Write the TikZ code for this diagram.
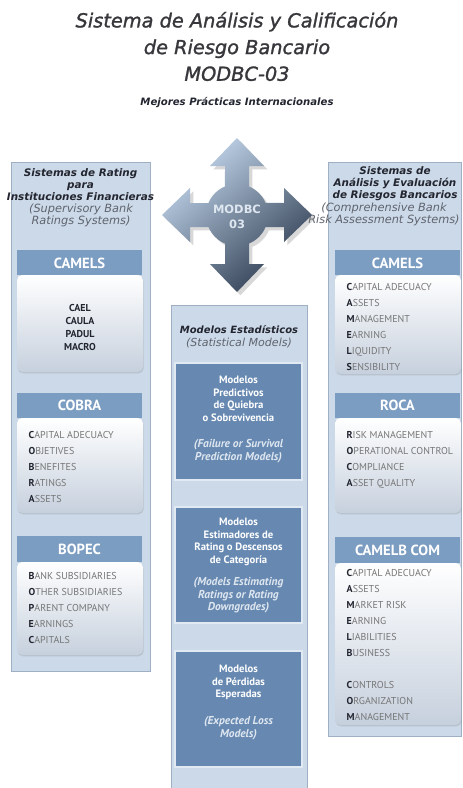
\documentclass[tikz,border=0pt]{standalone}
\usepackage{fontspec}
\setmainfont{PT Sans}
\newfontfamily\hdfont{DejaVu Sans}[BoldFont={DejaVu Sans Bold},ItalicFont={DejaVu Sans Oblique},BoldItalicFont={DejaVu Sans Bold Oblique}]
\newfontfamily\titlefont{DejaVu Sans Oblique}[FakeBold=1.3]
\usetikzlibrary{shadows}

\definecolor{panelbg}{RGB}{204,217,232}
\definecolor{panelline}{RGB}{160,176,196}
\definecolor{bandbg}{RGB}{124,157,194}
\definecolor{modbg}{RGB}{103,137,177}
\definecolor{modline}{RGB}{225,233,242}
\definecolor{boxlow}{RGB}{198,208,221}
\definecolor{inkdark}{RGB}{35,38,48}
\definecolor{inkgrey}{RGB}{95,100,110}
\definecolor{itemgrey}{RGB}{118,118,118}
\definecolor{titleink}{RGB}{55,55,60}
\definecolor{arrowlight}{RGB}{196,216,238}
\definecolor{arrowdark}{RGB}{48,62,82}
\definecolor{subwhite}{RGB}{222,230,240}

\newcommand{\itm}[2]{{\bfseries\color{inkdark}#1}#2}

\begin{document}
\begin{tikzpicture}[x=0.75pt,y=-0.75pt,
  panel/.style={fill=panelbg,draw=panelline,line width=0.6pt},
  headtext/.style={align=center,text=inkdark,font=\hdfont\fontsize{7.8}{9}\selectfont\bfseries\itshape},
  engtext/.style={align=center,text=inkgrey,font=\hdfont\fontsize{8.5}{9}\selectfont\itshape},
  bandtext/.style={text=white,font=\fontsize{11}{12}\selectfont\bfseries},
  listbox/.style={top color=white,bottom color=boxlow,rounded corners=4pt,drop shadow={opacity=0.25,shadow xshift=0.5pt,shadow yshift=-1pt}},
  listtext/.style={anchor=west,align=left,text=itemgrey,font=\fontsize{7.5}{12}\selectfont},
  modbox/.style={fill=modbg,draw=modline,line width=0.8pt},
  modtext/.style={align=center,text=white,font=\fontsize{8}{9.4}\selectfont\bfseries},
  modsub/.style={align=center,text=subwhite,font=\fontsize{8.6}{9.4}\selectfont\bfseries\itshape}]
\useasboundingbox[fill=white] (0,0) rectangle (462,788);

\node[align=center,text=titleink,font=\titlefont\fontsize{14.5}{20}\selectfont] (title) at (237,46.5) {Sistema de Análisis y Calificación\\de Riesgo Bancario\\MODBC-03};
\node[text=inkdark,font=\hdfont\fontsize{7.6}{9}\selectfont\bfseries\itshape] (motto) at (237,103) {Mejores Prácticas Internacionales};

\draw[panel] (11,162) rectangle (150,671);
\draw[panel] (328,162) rectangle (461,736);
\fill[panelbg] (171,305) rectangle (307,788);
\draw[panelline,line width=0.6pt] (171,788) -- (171,305) -- (307,305) -- (307,788);

\node[headtext] (lhead) at (80.5,185) {Sistemas de Rating\\para\\Instituciones Financieras};
\node[engtext] (lheadeng) at (81,215) {(Supervisory Bank\\Ratings Systems)};
\node[headtext] (rhead) at (395,184) {Sistemas de\\Análisis y Evaluación\\de Riesgos Bancarios};
\node[engtext] (rheadeng) at (384,214) {(Comprehensive Bank\\Risk Assessment Systems)};
\node[headtext,font=\hdfont\fontsize{7.5}{9.75}\selectfont\bfseries\itshape] (mhead) at (239,330) {Modelos Estadísticos};
\node[engtext,font=\hdfont\fontsize{8.3}{9}\selectfont\itshape] (mheadeng) at (239,343) {(Statistical Models)};

\scope[shift={(237,215)},x=0.75pt,y=0.75pt]
\shade[top color=arrowlight,bottom color=arrowdark,shading angle=40,drop shadow={opacity=0.3}]
  (0,77) -- (27,49) -- (12,49) -- (12,28.58) arc[start angle=67.2,end angle=22.8,radius=31]
  -- (47,12) -- (47,27) -- (75,0) -- (47,-27) -- (47,-12) -- (28.58,-12)
  arc[start angle=-22.8,end angle=-67.2,radius=31] -- (12,-49) -- (27,-49) -- (0,-77)
  -- (-27,-49) -- (-12,-49) -- (-12,-28.58) arc[start angle=-112.8,end angle=-157.2,radius=31]
  -- (-47,-12) -- (-47,-27) -- (-75,0) -- (-47,27) -- (-47,12) -- (-28.58,12)
  arc[start angle=157.2,end angle=112.8,radius=31] -- (-12,49) -- (-27,49) -- cycle;
\endscope
\node[align=center,text=subwhite,font=\hdfont\fontsize{8.6}{11.25}\selectfont\bfseries] (hub) at (237,217) {MODBC\\03};

\fill[bandbg] (17,250) rectangle (142,275);
\node[bandtext] (lcamels) at (79.5,263) {CAMELS};
\path[listbox] (17,275) rectangle (143,372);
\node[align=center,text=inkdark,font=\fontsize{7.5}{9.75}\selectfont\bfseries] (lcamitems) at (80,327) {CAEL\\CAULA\\PADUL\\MACRO};

\fill[bandbg] (17,393) rectangle (142,418);
\node[bandtext] (cobra) at (79.5,405.5) {COBRA};
\path[listbox] (17,418) rectangle (143,513);
\node[listtext] (cobraitems) at (24,467) {\itm{C}{APITAL ADECUACY}\\\itm{O}{BJETIVES}\\\itm{B}{ENEFITES}\\\itm{R}{ATINGS}\\\itm{A}{SSETS}};

\fill[bandbg] (17,536) rectangle (142,562);
\node[bandtext] (bopec) at (79.5,549) {BOPEC};
\path[listbox] (17,562) rectangle (143,655);
\node[listtext] (bopecitems) at (24,608.5) {\itm{B}{ANK SUBSIDIARIES}\\\itm{O}{THER SUBSIDIARIES}\\\itm{P}{ARENT COMPANY}\\\itm{E}{ARNINGS}\\\itm{C}{APITALS}};

\fill[bandbg] (335,250) rectangle (460,275);
\node[bandtext] (rcamels) at (397.5,263) {CAMELS};
\path[listbox] (335,275) rectangle (461,374);
\node[listtext] (rcamitems) at (342,326.5) {\itm{C}{APITAL ADECUACY}\\\itm{A}{SSETS}\\\itm{M}{ANAGEMENT}\\\itm{E}{ARNING}\\\itm{L}{IQUIDITY}\\\itm{S}{ENSIBILITY}};

\fill[bandbg] (335,393) rectangle (460,418);
\node[bandtext] (roca) at (397.5,405.5) {ROCA};
\path[listbox] (335,418) rectangle (461,513);
\node[listtext] (rocaitems) at (342,459.5) {\itm{R}{ISK MANAGEMENT}\\\itm{O}{PERATIONAL CONTROL}\\\itm{C}{OMPLIANCE}\\\itm{A}{SSET QUALITY}};

\fill[bandbg] (335,537) rectangle (460,563);
\node[bandtext] (camelb) at (397.5,550) {CAMELB COM};
\path[listbox] (335,563) rectangle (461,725);
\node[listtext] (camelbitems) at (342,645) {\itm{C}{APITAL ADECUACY}\\\itm{A}{SSETS}\\\itm{M}{ARKET RISK}\\\itm{E}{ARNING}\\\itm{L}{IABILITIES}\\\itm{B}{USINESS}\\[12pt]\itm{C}{ONTROLS}\\\itm{O}{RGANIZATION}\\\itm{M}{ANAGEMENT}};

\draw[modbox] (175,363) rectangle (302,480);
\node[modtext] (pred) at (238.5,398.75) {Modelos\\Predictivos\\de Quiebra\\o Sobrevivencia};
\node[modsub] (predeng) at (238.5,451) {(Failure or Survival\\Prediction Models)};
\draw[modbox] (175,507) rectangle (302,623);
\node[modtext] (estim) at (238.5,541.75) {Modelos\\Estimadores de\\Rating o Descensos\\de Categoría};
\node[modsub] (estimeng) at (238.5,595.5) {(Models Estimating\\Ratings or Rating\\Downgrades)};
\draw[modbox] (175,651) rectangle (302,767);
\node[modtext] (loss) at (238.5,682.5) {Modelos\\de Pérdidas\\Esperadas};
\node[modsub] (losseng) at (238.5,728) {(Expected Loss\\Models)};
\end{tikzpicture}
\end{document}
